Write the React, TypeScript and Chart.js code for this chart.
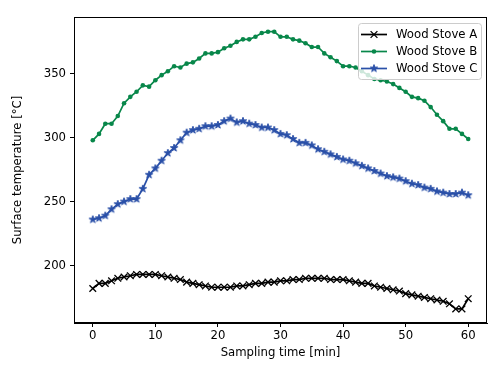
import React, { useEffect, useRef } from "react";
import { Chart, registerables } from "chart.js";

Chart.register(...registerables);

const minutes = [
  0, 1, 2, 3, 4, 5, 6, 7, 8, 9, 10, 11, 12, 13, 14, 15, 16, 17, 18, 19, 20,
  21, 22, 23, 24, 25, 26, 27, 28, 29, 30, 31, 32, 33, 34, 35, 36, 37, 38, 39, 40,
  41, 42, 43, 44, 45, 46, 47, 48, 49, 50, 51, 52, 53, 54, 55, 56, 57, 58, 59, 60,
];

const stoveA = [
  182, 186, 186, 188, 190, 191, 192, 193, 193, 193, 193,
  192, 191, 190, 189, 187, 186, 185, 184, 183, 183,
  183, 183, 184, 184, 185, 186, 186, 187, 187, 188,
  188, 189, 189, 190, 190, 190, 190, 189, 189, 189,
  188, 187, 186, 186, 184, 183, 182, 181, 180, 178,
  177, 176, 175, 174, 173, 172, 170, 166, 166, 174,
];

const stoveB = [
  298, 303, 311, 311, 317, 327, 332, 336, 341, 340, 345,
  349, 352, 356, 355, 358, 359, 362, 366, 366, 367,
  370, 372, 375, 377, 377, 379, 382, 383, 383, 379,
  379, 377, 376, 374, 371, 371, 366, 363, 360, 356,
  356, 355, 352, 349, 346, 345, 344, 342, 339, 336,
  332, 331, 329, 324, 318, 313, 307, 307, 303, 299,
];

const stoveC = [
  236, 237, 239, 244, 248, 250, 252, 252, 260, 271, 276,
  282, 288, 292, 298, 304, 306, 307, 309, 309, 310,
  313, 315, 312, 313, 311, 310, 308, 308, 306, 303,
  302, 299, 296, 296, 294, 291, 289, 287, 285, 283,
  282, 280, 278, 276, 274, 272, 270, 269, 268, 266,
  264, 263, 261, 260, 258, 257, 256, 256, 257, 255,
];

const seriesNames = ["Wood Stove A", "Wood Stove B", "Wood Stove C"];
const xTicks = [0, 10, 20, 30, 40, 50, 60];
const yTicks = [200, 250, 300, 350];
const xTitle = "Sampling time [min]";
const yTitle = "Surface temperature [°C]";

const COLOR_A = "#000000";
const COLOR_B = "#08874a";
const COLOR_C = "#2a50a8";
const FONT = "'DejaVu Sans', sans-serif";
const FS = 11.7;

function makeStar(color: string, r: number): HTMLCanvasElement {
  const size = Math.ceil(r * 2 + 2);
  const c = document.createElement("canvas");
  c.width = size;
  c.height = size;
  const ctx = c.getContext("2d")!;
  ctx.translate(size / 2, size / 2);
  ctx.beginPath();
  for (let i = 0; i < 10; i++) {
    const rad = i % 2 === 0 ? r : r * 0.382;
    const a = -Math.PI / 2 + (i * Math.PI) / 5;
    ctx.lineTo(rad * Math.cos(a), rad * Math.sin(a));
  }
  ctx.closePath();
  ctx.fillStyle = color;
  ctx.fill();
  ctx.strokeStyle = color;
  ctx.lineWidth = 1;
  ctx.stroke();
  return c;
}

export default function App() {
  const canvasRef = useRef<HTMLCanvasElement | null>(null);

  useEffect(() => {
    document.body.style.margin = "0";
    const canvas = canvasRef.current;
    if (!canvas) return;
    const star = makeStar(COLOR_C, 3.9);

    const toPts = (ys: number[]) => minutes.map((m, i) => ({ x: m, y: ys[i] }));

    const framePlugin = {
      id: "frameAndLegend",
      afterDraw(chart: any) {
        const { ctx, chartArea } = chart;
        ctx.save();
        ctx.strokeStyle = "#000";
        ctx.lineWidth = 1;
        ctx.strokeRect(
          Math.round(chartArea.left) + 0.5,
          Math.round(chartArea.top) + 0.5,
          Math.round(chartArea.right - chartArea.left) - 1,
          Math.round(chartArea.bottom - chartArea.top) - 1
        );

        // legend box
        const bx = 358.5, by = 23.5, bw = 123, bh = 56, r = 3;
        ctx.beginPath();
        ctx.moveTo(bx + r, by);
        ctx.lineTo(bx + bw - r, by);
        ctx.quadraticCurveTo(bx + bw, by, bx + bw, by + r);
        ctx.lineTo(bx + bw, by + bh - r);
        ctx.quadraticCurveTo(bx + bw, by + bh, bx + bw - r, by + bh);
        ctx.lineTo(bx + r, by + bh);
        ctx.quadraticCurveTo(bx, by + bh, bx, by + bh - r);
        ctx.lineTo(bx, by + r);
        ctx.quadraticCurveTo(bx, by, bx + r, by);
        ctx.closePath();
        ctx.fillStyle = "rgba(255,255,255,0.8)";
        ctx.fill();
        ctx.strokeStyle = "#cccccc";
        ctx.stroke();

        const colors = [COLOR_A, COLOR_B, COLOR_C];
        const rows = [34.5, 51.5, 68.5];
        rows.forEach((yy, i) => {
          ctx.strokeStyle = colors[i];
          ctx.lineWidth = 1.7;
          ctx.beginPath();
          ctx.moveTo(361, yy);
          ctx.lineTo(387, yy);
          ctx.stroke();
          const cx = 374;
          if (i === 0) {
            ctx.lineWidth = 1.3;
            ctx.beginPath();
            ctx.moveTo(cx - 3.4, yy - 3.4);
            ctx.lineTo(cx + 3.4, yy + 3.4);
            ctx.moveTo(cx - 3.4, yy + 3.4);
            ctx.lineTo(cx + 3.4, yy - 3.4);
            ctx.stroke();
          } else if (i === 1) {
            ctx.fillStyle = colors[i];
            ctx.beginPath();
            ctx.arc(cx, yy, 2.3, 0, Math.PI * 2);
            ctx.fill();
          } else {
            ctx.drawImage(star, cx - star.width / 2, yy - star.height / 2);
          }
          ctx.fillStyle = "#000";
          ctx.font = `${FS}px ${FONT}`;
          ctx.textAlign = "left";
          ctx.textBaseline = "middle";
          ctx.fillText(seriesNames[i], 396, yy);
        });
        ctx.restore();
      },
    };

    const chart = new Chart(canvas, {
      type: "line",
      data: {
        datasets: [
          {
            label: seriesNames[0],
            data: toPts(stoveA),
            borderColor: COLOR_A,
            backgroundColor: COLOR_A,
            borderWidth: 1.7,
            pointStyle: "crossRot",
            pointRadius: 4.7,
            pointBorderWidth: 1.3,
            pointBorderColor: COLOR_A,
            tension: 0,
            fill: false,
          },
          {
            label: seriesNames[1],
            data: toPts(stoveB),
            borderColor: COLOR_B,
            backgroundColor: COLOR_B,
            borderWidth: 1.7,
            pointStyle: "circle",
            pointRadius: 2.3,
            pointBorderWidth: 0,
            pointBackgroundColor: COLOR_B,
            tension: 0,
            fill: false,
          },
          {
            label: seriesNames[2],
            data: toPts(stoveC),
            borderColor: COLOR_C,
            backgroundColor: COLOR_C,
            borderWidth: 1.7,
            pointStyle: star as any,
            pointRadius: 3.9,
            tension: 0,
            fill: false,
          },
        ],
      },
      options: {
        responsive: false,
        animation: false,
        devicePixelRatio: 1,
        events: [],
        layout: { padding: { left: 0, top: 17, right: 17, bottom: 0 } },
        plugins: {
          legend: { display: false },
          tooltip: { enabled: false },
        },
        scales: {
          x: {
            type: "linear",
            min: -3,
            max: 63,
            afterBuildTicks: (axis: any) => {
              axis.ticks = xTicks.map((v) => ({ value: v }));
            },
            afterFit: (axis: any) => {
              axis.height = 43;
            },
            ticks: {
              color: "#000",
              font: { family: FONT, size: FS },
              padding: 2,
              maxRotation: 0,
              callback: (v: any) => String(v),
            },
            grid: {
              display: true,
              drawOnChartArea: false,
              drawTicks: true,
              tickLength: 4,
              color: "#000",
            },
            border: { display: true, color: "#000" },
            title: {
              display: true,
              text: xTitle,
              color: "#000",
              font: { family: FONT, size: FS },
              padding: { top: 0, bottom: 6 },
            },
          },
          y: {
            type: "linear",
            min: 155,
            max: 394.5,
            afterBuildTicks: (axis: any) => {
              axis.ticks = yTicks.map((v) => ({ value: v }));
            },
            afterFit: (axis: any) => {
              axis.width = 74;
            },
            ticks: {
              color: "#000",
              font: { family: FONT, size: FS },
              padding: 4,
              callback: (v: any) => String(v),
            },
            grid: {
              display: true,
              drawOnChartArea: false,
              drawTicks: true,
              tickLength: 4,
              color: "#000",
            },
            border: { display: true, color: "#000" },
            title: {
              display: true,
              text: yTitle,
              color: "#000",
              font: { family: FONT, size: FS },
              padding: { top: 11, bottom: 0 },
            },
          },
        },
      },
      plugins: [framePlugin],
    } as any);

    return () => {
      chart.destroy();
    };
  }, []);

  return (
    <div style={{ position: "absolute", left: 0, top: 0, width: 504, height: 366, background: "#fff" }}>
      <canvas ref={canvasRef} width={504} height={366} style={{ width: 504, height: 366, display: "block" }} />
    </div>
  );
}
